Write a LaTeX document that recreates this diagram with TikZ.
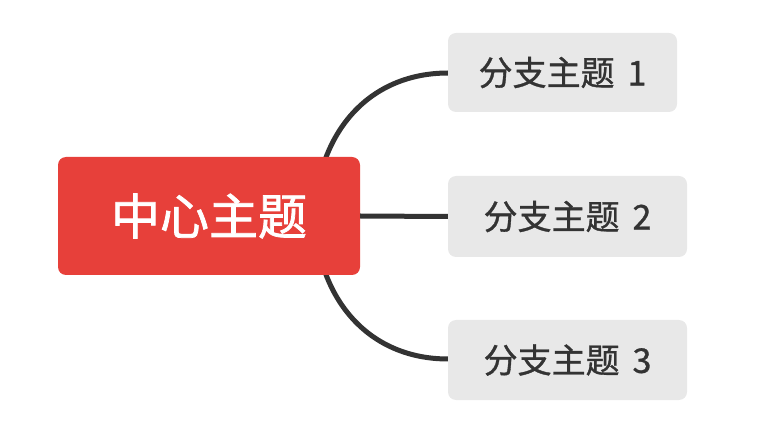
\documentclass[tikz,border=0pt]{standalone}
\usepackage{fontspec}
\newfontfamily\cjk{Noto Sans CJK SC}[FakeBold=1.0]
\newfontfamily\cjkc{Noto Sans CJK SC}[FakeBold=1.5]
\definecolor{topicred}{HTML}{E7403A}
\definecolor{branchgray}{HTML}{E8E8E8}
\definecolor{linedark}{HTML}{333333}
\begin{document}
\begin{tikzpicture}[x=1pt,y=-1pt,
  central/.style={fill=topicred,rounded corners=8pt,minimum width=302pt,minimum height=118pt,inner sep=0pt,text=white,font=\cjkc\fontsize{49}{52}\selectfont},
  branch/.style={fill=branchgray,rounded corners=8pt,inner sep=0pt,text=linedark,font=\cjk\fontsize{34}{38}\selectfont},
  conn/.style={draw=linedark,line width=5pt}]
\useasboundingbox (0,0) rectangle (766,430);
\coordinate (s1) at (325,160);
\coordinate (s3) at (325,272);
\draw[conn] (s1) .. controls (345,105) and (390,73) .. (448,73);
\draw[conn] (s3) .. controls (345,327) and (390,359) .. (448,359);
\node[central] (c) at (209,216) {中心主题};
\node[branch,minimum width=229pt,minimum height=79pt] (b1) at (562.5,72.5) {分支主题\hspace{0.38em}1};
\node[branch,minimum width=239pt,minimum height=81pt] (b2) at (567.5,216.5) {分支主题\hspace{0.38em}2};
\node[branch,minimum width=239pt,minimum height=80pt] (b3) at (567.5,360) {分支主题\hspace{0.38em}3};
\draw[conn] (c.east) -- (b2.west);
\end{tikzpicture}
\end{document}
